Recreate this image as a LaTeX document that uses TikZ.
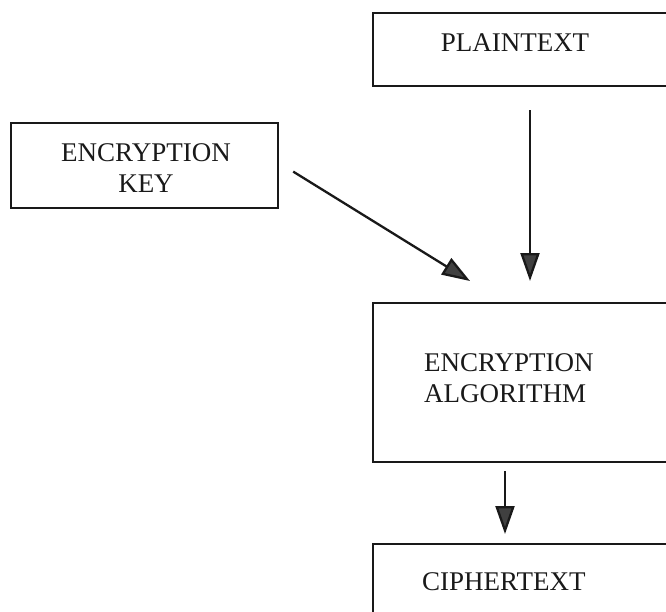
\documentclass[tikz,border=0pt]{standalone}
\usepackage{fontspec}
\setmainfont{Liberation Serif}
\usetikzlibrary{arrows.meta,calc}
\begin{document}
\begin{tikzpicture}[x=1pt,y=-1pt,
  box/.style={draw=black!90,line width=2.2pt,rectangle,inner sep=0pt},
  txt/.style={font=\fontsize{27}{31}\selectfont,text=black!90,inner sep=0pt},
  arr/.style={draw=black!90,line width=2.3pt,-{Triangle[length=28pt,width=19pt,fill=black!75]}}]
\useasboundingbox (0,0) rectangle (666,611);
\clip (0,0) rectangle (666,611);
\node[box,minimum width=340pt,minimum height=73pt,anchor=north west] (pt) at (372,12) {};
\node[txt] (ptt) at (515,43) {PLAINTEXT};
\node[box,minimum width=267pt,minimum height=85pt,anchor=north west] (key) at (10,122) {};
\node[txt,align=center] (keyt) at (146,168) {ENCRYPTION\\KEY};
\node[box,minimum width=340pt,minimum height=159pt,anchor=north west] (alg) at (372,302) {};
\node[txt,align=left,anchor=west] (algt) at (424,378) {ENCRYPTION\\ALGORITHM};
\node[box,minimum width=340pt,minimum height=120pt,anchor=north west] (ct) at (372,543) {};
\node[txt,anchor=west] (ctt) at (422,582) {CIPHERTEXT};
\draw[arr] ($(pt.south west)+(158,23)$) -- ($(alg.north west)+(158,-21)$);
\draw[arr] ($(key.east)+(14,6)$) -- ($(alg.north west)+(98,-21)$);
\draw[arr] ($(alg.south west)+(133,8)$) -- ($(ct.north west)+(133,-9)$);
\end{tikzpicture}
\end{document}
